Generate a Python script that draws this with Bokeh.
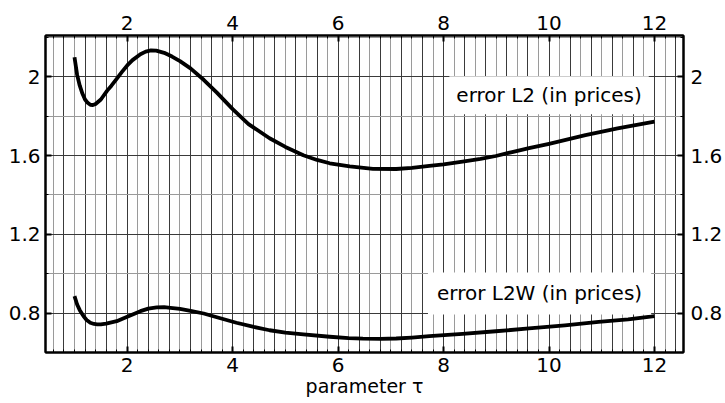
from bokeh.plotting import figure
from bokeh.models import (Label, LinearAxis, SingleIntervalTicker,
                          CustomJSTickFormatter, Range1d)
from bokeh.embed import file_html
from bokeh.resources import INLINE

# data
tau_l2 = [1.00, 1.05, 1.10, 1.15, 1.20, 1.25, 1.30, 1.35, 1.40, 1.50, 1.62,
          1.70, 1.80, 1.90, 2.00, 2.10, 2.25, 2.35, 2.45, 2.55, 2.70, 2.85,
          3.00, 3.20, 3.45, 3.70, 4.00, 4.30, 4.70, 5.00, 5.34, 5.60, 5.84,
          6.22, 6.66, 7.10, 7.40, 7.73, 8.00, 8.36, 8.70, 8.99, 9.30, 9.62,
          10.00, 10.69, 11.30, 12.00]
err_l2 = [2.100, 2.010, 1.955, 1.915, 1.885, 1.868, 1.858, 1.857, 1.862, 1.885,
          1.930, 1.955, 1.990, 2.025, 2.058, 2.085, 2.115, 2.128, 2.134, 2.133,
          2.122, 2.103, 2.080, 2.043, 1.985, 1.920, 1.836, 1.760, 1.688, 1.644,
          1.602, 1.578, 1.561, 1.545, 1.533, 1.532, 1.538, 1.548, 1.556, 1.569,
          1.583, 1.598, 1.618, 1.638, 1.660, 1.704, 1.738, 1.773]

tau_l2w = [1.00, 1.05, 1.10, 1.17, 1.23, 1.30, 1.37, 1.43, 1.50, 1.60, 1.80,
           2.00, 2.25, 2.40, 2.56, 2.70, 2.82, 3.00, 3.20, 3.45, 3.75, 4.07,
           4.40, 4.70, 5.00, 5.34, 5.84, 6.20, 6.47, 6.80, 7.10, 7.40, 7.73,
           8.36, 8.99, 9.62, 10.30, 10.94, 11.50, 12.00]
err_l2w = [0.886, 0.844, 0.815, 0.785, 0.765, 0.751, 0.745, 0.743, 0.743, 0.747,
           0.759, 0.782, 0.810, 0.823, 0.829, 0.830, 0.827, 0.822, 0.812, 0.798,
           0.775, 0.751, 0.730, 0.713, 0.701, 0.692, 0.680, 0.673, 0.670, 0.669,
           0.671, 0.676, 0.683, 0.695, 0.708, 0.722, 0.738, 0.755, 0.768, 0.785]

label_texts = ["error L2 (in prices)", "error L2W (in prices)"]
label_x = [10.0, 9.82]
label_y = [1.906, 0.90]

FONT = "DejaVu Sans"
TICK_FS = "20px"

p = figure(width=725, height=403,
           x_range=Range1d(0.45, 12.55), y_range=Range1d(0.6, 2.21),
           output_backend="svg", toolbar_location=None,
           min_border_left=45, min_border_right=40,
           min_border_top=35, min_border_bottom=51)
p.outline_line_color = "black"
p.outline_line_width = 2
p.background_fill_color = "white"

fmt = CustomJSTickFormatter(code="return (Math.round(tick*10)/10).toString();")

def style_axis(ax, ticker):
    ax.ticker = ticker
    ax.formatter = fmt
    ax.axis_line_width = 2
    ax.axis_line_color = "black"
    ax.major_tick_in = 6
    ax.major_tick_out = 0
    ax.minor_tick_in = 3
    ax.minor_tick_out = 0
    ax.major_tick_line_color = "black"
    ax.major_tick_line_width = 2
    ax.minor_tick_line_color = "black"
    ax.minor_tick_line_width = 1
    ax.major_label_text_font = FONT
    ax.major_label_text_font_size = TICK_FS
    ax.major_label_text_color = "black"

xt = lambda: SingleIntervalTicker(interval=2, num_minor_ticks=10)
yt = lambda: SingleIntervalTicker(interval=0.4, num_minor_ticks=2)

style_axis(p.xaxis[0], xt())
style_axis(p.yaxis[0], yt())
p.xaxis[0].major_label_standoff = 5
p.yaxis[0].major_label_standoff = 5
p.xaxis[0].axis_label = "parameter \u03c4"
p.xaxis[0].axis_label_text_font = FONT
p.xaxis[0].axis_label_text_font_size = "19px"
p.xaxis[0].axis_label_text_font_style = "normal"
p.xaxis[0].axis_label_text_color = "black"
p.xaxis[0].axis_label_standoff = 0

top = LinearAxis()
style_axis(top, xt())
top.major_label_standoff = 6
p.add_layout(top, "above")
right = LinearAxis()
style_axis(right, yt())
right.major_label_standoff = 7
p.add_layout(right, "right")

p.xgrid.ticker = SingleIntervalTicker(interval=0.4, num_minor_ticks=2)
p.ygrid.ticker = SingleIntervalTicker(interval=0.4, num_minor_ticks=2)
for g in (p.xgrid, p.ygrid):
    g.grid_line_color = "#3a3a3a"
    g.grid_line_width = 1
    g.minor_grid_line_color = "#9a9a9a"
    g.minor_grid_line_width = 1

p.line(tau_l2, err_l2, line_color="black", line_width=3.8, line_join="round")
p.line(tau_l2w, err_l2w, line_color="black", line_width=3.8, line_join="round")

pads = [7, 9]
for t, x, y, pd in zip(label_texts, label_x, label_y, pads):
    p.add_layout(Label(x=x, y=y, text=t, text_align="center",
                       text_baseline="middle", text_font=FONT,
                       text_font_size="20px", text_color="black",
                       background_fill_color="white", padding=pd))

open("out.html", "w").write(file_html(p, INLINE))
